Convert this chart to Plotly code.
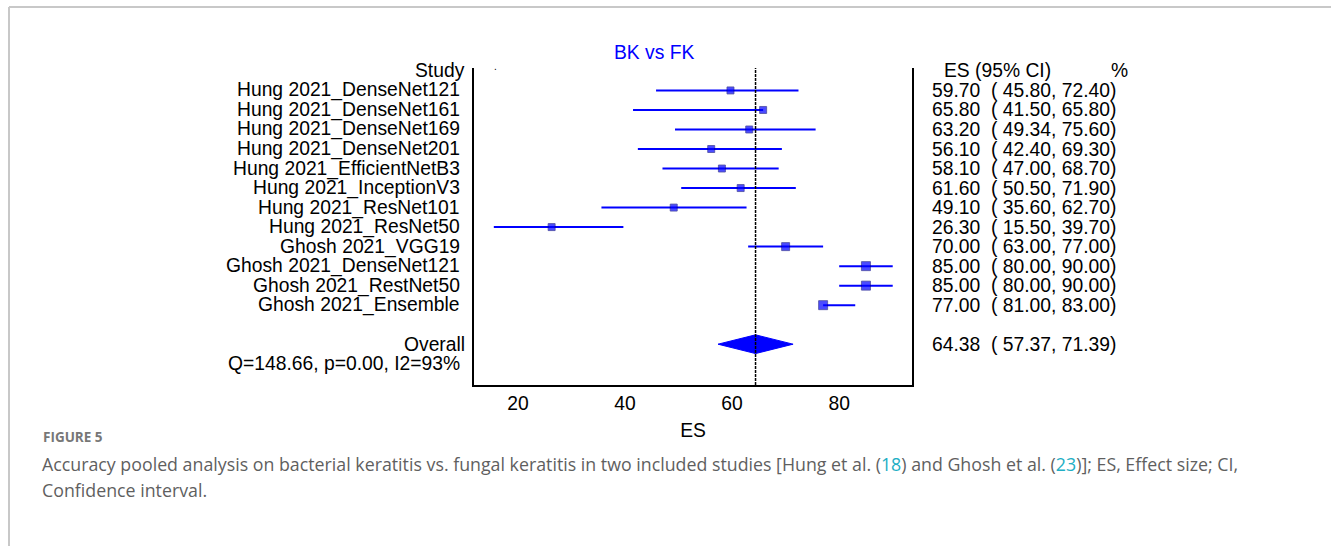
import plotly.graph_objects as go

W, H = 1331, 546

# ---------------- data ----------------
studies = [
    "Hung 2021_DenseNet121", "Hung 2021_DenseNet161", "Hung 2021_DenseNet169",
    "Hung 2021_DenseNet201", "Hung 2021_EfficientNetB3", "Hung 2021_InceptionV3",
    "Hung 2021_ResNet101", "Hung 2021_ResNet50", "Ghosh 2021_VGG19",
    "Ghosh 2021_DenseNet121", "Ghosh 2021_RestNet50", "Ghosh 2021_Ensemble",
]
es = [59.70, 65.80, 63.20, 56.10, 58.10, 61.60, 49.10, 26.30, 70.00, 85.00, 85.00, 77.00]
# CI line ends as drawn in the picture
ci_low = [45.80, 41.50, 49.34, 42.40, 47.00, 50.50, 35.60, 15.50, 63.00, 80.00, 80.00, 77.00]
ci_high = [72.40, 65.80, 75.60, 69.30, 68.70, 71.90, 62.70, 39.70, 77.00, 90.00, 90.00, 83.00]
# printed ES (95% CI) column
es_ci_text = [
    "59.70  ( 45.80, 72.40)", "65.80  ( 41.50, 65.80)", "63.20  ( 49.34, 75.60)",
    "56.10  ( 42.40, 69.30)", "58.10  ( 47.00, 68.70)", "61.60  ( 50.50, 71.90)",
    "49.10  ( 35.60, 62.70)", "26.30  ( 15.50, 39.70)", "70.00  ( 63.00, 77.00)",
    "85.00  ( 80.00, 90.00)", "85.00  ( 80.00, 90.00)", "77.00  ( 81.00, 83.00)",
]
box_px = [7, 7, 7, 7, 7, 7, 7, 7, 8, 9, 9, 9]
overall_es, overall_low, overall_high = 64.38, 57.37, 71.39
overall_text = "64.38  ( 57.37, 71.39)"
het_text = "Q=148.66, p=0.00, I2=93%"
x_ticks = [20, 40, 60, 80]

# ---------------- layout helpers ----------------
def px(x):
    return x / W

def py(y):
    return 1 - y / H

rows = list(range(1, len(studies) + 1))
overall_row = len(studies) + 2
het_row = overall_row + 1

FONT = "Liberation Sans, Arial, sans-serif"
FS = 19.3
BLUE = "#0000ff"

fig = go.Figure()

# CI lines
for r, lo, hi in zip(rows, ci_low, ci_high):
    fig.add_trace(go.Scatter(x=[lo, hi], y=[r, r], mode="lines",
                             line=dict(color=BLUE, width=2), hoverinfo="skip",
                             showlegend=False))

# boxes
fig.add_trace(go.Scatter(x=es, y=rows, mode="markers",
                         marker=dict(symbol="square", size=box_px, color=BLUE,
                                     line=dict(color="#00007a", width=0.8)),
                         showlegend=False, hoverinfo="x+y"))

# overall diamond
hd = 0.48
fig.add_trace(go.Scatter(
    x=[overall_low, overall_es, overall_high, overall_es, overall_low],
    y=[overall_row, overall_row - hd, overall_row, overall_row + hd, overall_row],
    mode="lines", fill="toself", fillcolor=BLUE, line=dict(color=BLUE, width=1),
    showlegend=False, hoverinfo="skip"))

# dashed overall line
fig.add_shape(type="line", x0=overall_es, x1=overall_es, xref="x",
              y0=0, y1=1, yref="y domain",
              line=dict(color="black", width=1.5, dash="3px,1px"))

ann = []
lab_font = dict(family=FONT, size=FS, color="black")
# headers
ann.append(dict(x=px(467), y=0, xref="paper", yref="y", text="Study",
                xanchor="right", yanchor="middle", showarrow=False, font=lab_font))
ann.append(dict(x=px(942), y=0, xref="paper", yref="y", text="ES (95% CI)",
                xanchor="left", yanchor="middle", showarrow=False, font=lab_font))
ann.append(dict(x=px(1109), y=0, xref="paper", yref="y", text="%",
                xanchor="left", yanchor="middle", showarrow=False, font=lab_font))
ann.append(dict(x=px(496), y=py(66), xref="paper", yref="paper", text=".",
                xanchor="center", yanchor="middle", showarrow=False,
                font=dict(family=FONT, size=10, color="black")))
for r, s, t in zip(rows, studies, es_ci_text):
    ann.append(dict(x=px(467), y=r, xref="paper", yref="y", text=s + " ",
                    xanchor="right", yanchor="middle", showarrow=False, font=lab_font))
    ann.append(dict(x=px(930), y=r, xref="paper", yref="y", text=t,
                    xanchor="left", yanchor="middle", showarrow=False, font=lab_font))
ann.append(dict(x=px(467), y=overall_row, xref="paper", yref="y", text="Overall",
                xanchor="right", yanchor="middle", showarrow=False, font=lab_font))
ann.append(dict(x=px(930), y=overall_row, xref="paper", yref="y", text=overall_text,
                xanchor="left", yanchor="middle", showarrow=False, font=lab_font))
ann.append(dict(x=px(467), y=het_row, xref="paper", yref="y", text=het_text + " ",
                xanchor="right", yanchor="middle", showarrow=False, font=lab_font))
# title
ann.append(dict(x=px(654), y=py(52), xref="paper", yref="paper", text="BK vs FK",
                xanchor="center", yanchor="middle", showarrow=False,
                font=dict(family=FONT, size=FS, color=BLUE)))
# caption
CAP = "'Open Sans', Lato, sans-serif"
ann.append(dict(x=px(41), y=py(437), xref="paper", yref="paper", text="<b>FIGURE 5</b>",
                xanchor="left", yanchor="middle", showarrow=False,
                font=dict(family=CAP, size=13.5, color="#777777")))
teal = "#22aec4"
cap1 = ("Accuracy pooled analysis on bacterial keratitis vs. fungal keratitis in two included "
        "studies [Hung et al. (<span style='color:%s'>18</span>) and Ghosh et al. "
        "(<span style='color:%s'>23</span>)]; ES, Effect size; CI," % (teal, teal))
ann.append(dict(x=px(40), y=py(464), xref="paper", yref="paper", text=cap1,
                xanchor="left", yanchor="middle", showarrow=False,
                font=dict(family=CAP, size=17.8, color="#5f5f5f")))
ann.append(dict(x=px(40), y=py(490), xref="paper", yref="paper", text="Confidence interval.",
                xanchor="left", yanchor="middle", showarrow=False,
                font=dict(family=CAP, size=17.8, color="#5f5f5f")))

# frame lines of the page
fig.add_shape(type="line", xref="paper", yref="paper", x0=px(9), x1=1, y0=py(7), y1=py(7),
              line=dict(color="#c8c8c8", width=2))
fig.add_shape(type="line", xref="paper", yref="paper", x0=px(9), x1=px(9), y0=py(7), y1=0,
              line=dict(color="#c8c8c8", width=2))

fig.update_layout(
    width=W, height=H,
    margin=dict(l=0, r=0, t=0, b=0),
    paper_bgcolor="white", plot_bgcolor="white",
    annotations=ann,
    xaxis=dict(domain=[px(474), px(912)], range=[11.8, 93.6],
               tickvals=x_ticks, ticks="", showgrid=False, zeroline=False,
               showline=True, linecolor="black", linewidth=2,
               tickfont=dict(family=FONT, size=FS, color="black"),
               title=dict(text="ES", font=dict(family=FONT, size=FS, color="black"),
                          standoff=10)),
    yaxis=dict(domain=[py(385), py(68)], range=[16.09, -0.15],
               showticklabels=False, ticks="", showgrid=False, zeroline=False,
               showline=True, mirror=True, linecolor="black", linewidth=2),
)

fig.write_html("out.html", config={"displayModeBar": False},
               post_script="document.body.style.margin='0';document.body.style.overflow='hidden';")
